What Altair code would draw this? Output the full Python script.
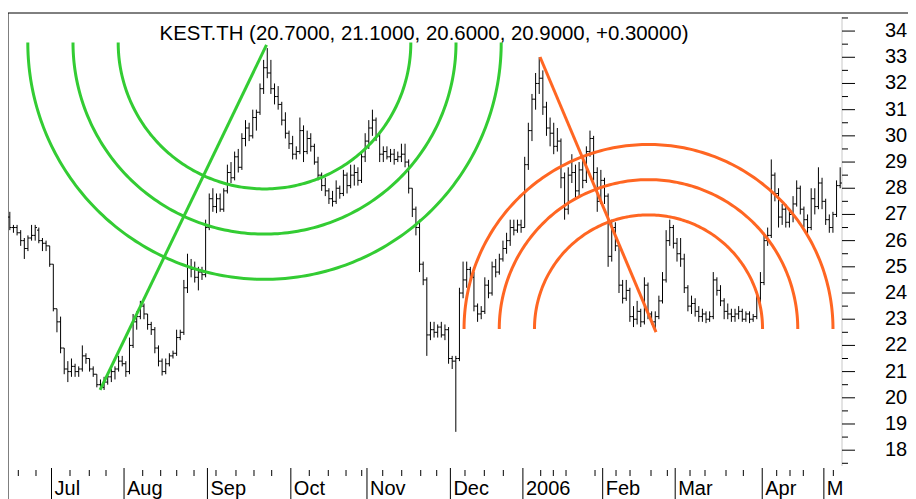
import numpy as np
import pandas as pd
import altair as alt

TITLE = "KEST.TH (20.7000, 21.1000, 20.6000, 20.9000, +0.30000)"

OPEN = [26.9, 26.5, 26.5, 26.3, 26.0, 25.7, 26.1, 26.2, 26.4, 26.0,
        25.9, 25.8, 25.1, 23.4, 22.9, 21.9, 21.1, 21.0, 21.2, 21.0,
        21.1, 21.6, 21.5, 21.1, 20.9, 20.5, 20.4, 20.6, 20.8, 21.0,
        21.1, 21.4, 21.3, 21.0, 22.0, 22.9, 23.1, 23.5, 23.2, 22.8,
        22.6, 21.9, 21.4, 21.0, 21.3, 21.6, 21.7, 22.3, 22.5, 24.2,
        25.0, 24.9, 24.6, 24.8, 24.7, 26.5, 27.6, 27.3, 27.6, 27.2,
        27.9, 28.6, 28.4, 29.2, 28.8, 29.9, 30.3, 30.0, 30.7, 30.9,
        31.8, 32.6, 32.4, 31.8, 31.5, 31.2, 30.6, 30.1, 29.7, 29.3,
        29.4, 30.2, 29.4, 29.9, 29.6, 29.0, 28.5, 28.1, 27.9, 27.6,
        27.5, 28.0, 27.8, 28.5, 28.1, 28.5, 28.6, 28.3, 29.2, 29.8,
        30.3, 30.6, 30.0, 29.3, 29.4, 29.2, 29.3, 29.1, 29.2, 29.3,
        29.0, 28.0, 27.2, 26.5, 25.1, 24.5, 22.4, 22.6, 22.5, 22.7,
        22.4, 22.6, 21.5, 21.4, 21.5, 24.0, 24.5, 24.9, 24.6, 23.5,
        23.2, 23.3, 24.3, 24.0, 25.0, 24.8, 25.3, 25.7, 26.0, 26.5,
        26.4, 26.6, 26.5, 28.9, 30.2, 31.4, 32.0, 32.2, 31.1, 30.3,
        30.1, 29.6, 29.8, 28.4, 27.2, 28.5, 28.6, 27.9, 28.7, 28.3,
        29.4, 29.9, 28.6, 27.5, 28.3, 27.7, 25.4, 26.5, 25.8, 24.3,
        23.8, 24.1, 23.1, 23.0, 23.3, 22.9, 24.3, 23.2, 22.9, 23.1,
        23.7, 24.5, 26.0, 26.5, 25.9, 25.5, 25.3, 24.2, 23.5, 23.6,
        23.3, 23.1, 23.2, 23.0, 23.1, 24.5, 24.1, 23.7, 23.3, 23.2,
        23.1, 23.2, 23.3, 23.0, 23.2, 23.0, 23.1, 23.8, 24.4, 26.0,
        26.2, 28.5, 27.8, 26.9, 27.2, 26.7, 27.0, 27.4, 28.0, 27.2,
        26.8, 26.5, 27.6, 27.3, 28.2, 27.5, 26.8, 26.5, 27.0, 28.1]

HIGH = [27.1, 26.6, 26.6, 26.4, 26.1, 26.2, 26.6, 26.6, 26.5, 26.1,
        26.0, 25.8, 25.1, 23.4, 23.1, 21.9, 21.4, 21.5, 21.3, 21.2,
        22.0, 21.7, 21.5, 21.2, 20.9, 20.7, 20.8, 20.9, 21.1, 21.2,
        21.6, 21.6, 21.4, 22.3, 23.2, 23.3, 23.7, 23.6, 23.2, 22.9,
        22.7, 22.0, 21.5, 21.5, 21.7, 21.8, 22.6, 22.6, 24.5, 25.5,
        25.3, 25.2, 25.0, 25.0, 26.8, 27.8, 28.0, 27.8, 27.8, 28.0,
        28.9, 29.0, 29.4, 29.5, 30.1, 30.6, 30.5, 31.0, 31.0, 32.0,
        32.9, 33.35, 32.9, 32.0, 31.9, 31.3, 30.9, 30.2, 30.0, 29.6,
        30.7, 30.4, 30.2, 30.1, 29.7, 29.2, 28.6, 28.4, 28.0, 27.9,
        28.3, 28.1, 28.7, 28.6, 28.9, 28.9, 28.8, 29.4, 30.1, 30.6,
        31.0, 30.7, 30.1, 29.6, 29.6, 29.5, 29.5, 29.4, 29.7, 29.7,
        29.1, 28.0, 27.3, 26.8, 25.2, 24.6, 22.9, 22.9, 22.8, 22.9,
        22.8, 22.7, 21.6, 21.6, 24.2, 25.2, 25.2, 25.0, 24.8, 23.6,
        23.5, 24.6, 24.5, 25.2, 25.3, 25.5, 26.0, 26.3, 26.8, 26.8,
        26.8, 26.8, 29.2, 30.5, 31.6, 32.4, 33.0, 32.5, 31.3, 30.7,
        30.5, 30.3, 29.9, 28.6, 28.8, 29.3, 28.9, 29.0, 29.1, 29.6,
        30.2, 30.0, 28.8, 28.7, 28.4, 27.8, 26.8, 26.7, 25.9, 24.5,
        24.5, 24.2, 23.5, 23.7, 23.4, 24.6, 24.4, 23.3, 23.3, 23.9,
        24.8, 26.4, 26.8, 26.6, 26.1, 26.1, 25.5, 24.3, 23.9, 23.8,
        23.5, 23.4, 23.3, 23.3, 24.8, 24.6, 24.3, 23.8, 23.6, 23.4,
        23.4, 23.5, 23.4, 23.3, 23.3, 23.2, 24.0, 24.8, 26.3, 26.5,
        29.1, 28.6, 28.0, 27.4, 27.4, 27.2, 27.7, 28.3, 28.1, 27.3,
        27.0, 28.0, 28.0, 28.8, 28.4, 27.6, 27.0, 27.1, 28.3, 28.8]

LOW = [26.4, 26.3, 26.2, 25.8, 25.3, 25.6, 26.0, 26.0, 25.9, 25.6,
       25.6, 25.0, 23.3, 22.5, 21.7, 20.9, 20.6, 20.8, 20.8, 20.8,
       21.0, 21.3, 21.0, 20.8, 20.4, 20.3, 20.3, 20.5, 20.6, 20.7,
       21.0, 21.2, 20.8, 20.9, 21.9, 22.6, 23.0, 23.0, 22.6, 22.4,
       21.7, 21.2, 20.85, 20.9, 21.2, 21.5, 21.6, 22.2, 22.4, 24.0,
       24.6, 24.4, 24.1, 24.5, 24.6, 26.4, 27.1, 27.05, 27.1, 27.1,
       27.8, 28.2, 28.3, 28.6, 28.7, 29.6, 29.8, 29.9, 30.2, 30.8,
       31.6, 32.2, 31.6, 31.2, 31.0, 30.4, 29.9, 29.5, 29.1, 29.1,
       29.3, 29.0, 29.3, 29.4, 28.9, 28.3, 27.9, 27.7, 27.4, 27.3,
       27.4, 27.6, 27.7, 27.8, 28.0, 28.1, 28.1, 28.2, 29.0, 29.5,
       30.0, 29.8, 29.0, 29.0, 29.1, 29.0, 28.9, 29.0, 29.0, 28.8,
       27.8, 26.9, 26.2, 24.8, 24.3, 21.6, 22.2, 22.3, 22.3, 22.3,
       22.2, 21.3, 21.1, 18.7, 21.4, 23.8, 24.2, 24.5, 23.3, 22.9,
       23.0, 23.2, 23.8, 23.9, 24.6, 24.7, 25.2, 25.5, 25.8, 26.2,
       26.3, 26.3, 26.5, 28.7, 29.8, 31.0, 31.6, 30.8, 30.0, 29.6,
       29.3, 29.4, 28.0, 26.8, 27.0, 28.2, 27.6, 27.7, 28.0, 28.2,
       29.2, 28.3, 27.1, 27.4, 27.4, 25.0, 25.2, 25.6, 24.0, 23.6,
       23.7, 22.9, 22.7, 22.8, 22.7, 22.8, 23.0, 22.8, 22.6, 23.0,
       23.6, 24.4, 25.8, 25.7, 25.2, 25.0, 24.0, 23.3, 23.2, 23.1,
       22.9, 22.9, 22.85, 22.9, 23.0, 23.9, 23.5, 23.0, 23.0, 22.9,
       22.9, 23.0, 22.9, 22.9, 22.85, 22.9, 23.0, 23.6, 24.3, 25.8,
       26.1, 27.5, 26.5, 26.6, 26.5, 26.5, 26.7, 27.3, 27.0, 26.5,
       26.2, 26.4, 27.0, 27.2, 27.2, 26.6, 26.3, 26.3, 26.9, 28.0]

CLOSE = [26.5, 26.5, 26.3, 26.0, 25.7, 26.1, 26.2, 26.5, 26.0, 25.9,
         25.8, 25.1, 23.4, 22.9, 21.9, 21.1, 21.0, 21.2, 21.0, 21.1,
         21.6, 21.5, 21.1, 20.9, 20.5, 20.4, 20.6, 20.8, 21.0, 21.1,
         21.4, 21.3, 21.0, 22.0, 22.9, 23.1, 23.5, 23.2, 22.8, 22.6,
         21.9, 21.4, 21.0, 21.3, 21.6, 21.7, 22.3, 22.5, 24.2, 25.0,
         24.9, 24.6, 24.8, 24.7, 26.5, 27.6, 27.3, 27.6, 27.2, 27.9,
         28.6, 28.4, 29.2, 28.8, 29.9, 30.3, 30.0, 30.7, 30.9, 31.8,
         32.6, 32.4, 31.8, 31.5, 31.2, 30.6, 30.1, 29.7, 29.3, 29.4,
         30.2, 29.4, 29.9, 29.6, 29.0, 28.5, 28.1, 27.9, 27.6, 27.5,
         28.0, 27.8, 28.5, 28.1, 28.5, 28.6, 28.3, 29.2, 29.8, 30.3,
         30.6, 30.0, 29.3, 29.4, 29.2, 29.3, 29.1, 29.2, 29.3, 29.0,
         28.0, 27.2, 26.5, 25.1, 24.5, 22.4, 22.6, 22.5, 22.7, 22.4,
         22.6, 21.5, 21.4, 21.5, 24.0, 24.5, 24.9, 24.6, 23.5, 23.2,
         23.3, 24.3, 24.0, 25.0, 24.8, 25.3, 25.7, 26.0, 26.5, 26.4,
         26.6, 26.5, 28.9, 30.2, 31.4, 32.0, 32.2, 31.1, 30.3, 30.1,
         29.6, 29.8, 28.4, 27.2, 28.5, 28.6, 27.9, 28.7, 28.3, 29.4,
         29.9, 28.6, 27.5, 28.3, 27.7, 25.4, 26.5, 25.8, 24.3, 23.8,
         24.1, 23.1, 23.0, 23.3, 22.9, 24.3, 23.2, 22.9, 23.1, 23.7,
         24.5, 26.0, 26.5, 25.9, 25.5, 25.3, 24.2, 23.5, 23.6, 23.3,
         23.1, 23.2, 23.0, 23.1, 24.5, 24.1, 23.7, 23.3, 23.2, 23.1,
         23.2, 23.3, 23.0, 23.2, 23.0, 23.1, 23.8, 24.4, 26.0, 26.2,
         28.5, 27.8, 26.9, 27.2, 26.7, 27.0, 27.4, 28.0, 27.2, 26.8,
         26.5, 27.6, 27.3, 28.2, 27.5, 26.8, 26.5, 27.0, 28.1, 28.2]

MONTH_POS = [12, 32, 55, 78, 99, 122, 142, 164, 184, 208, 225]
MONTH_LABELS = ["Jul", "Aug", "Sep", "Oct", "Nov", "Dec", "2006", "Feb", "Mar", "Apr", "M"]
WEEK_POS = [2.84, 7.72, 17.10, 22.42, 27.03, 37.15, 42.11, 46.53, 51.30, 57.36,
            62.87, 67.84, 72.72, 83.09, 88.33, 93.22, 97.55, 103.34, 108.58, 113.82,
            118.23, 126.03, 131.36, 136.60, 146.91, 150.39, 153.89, 161.89, 167.68, 171.54,
            177.33, 181.83, 188.09, 192.22, 198.01, 202.79, 211.99, 215.66, 219.33, 227.61]
Y_MAJOR = [18, 19, 20, 21, 22, 23, 24, 25, 26, 27, 28, 29, 30, 31, 32, 33, 34]
Y_LABELS = ["18", "19", "20", "21", "22", "23", "24", "25", "26", "27", "28",
            "29", "30", "31", "32", "33", "34"]
Y_MINOR = [17.5, 18.5, 19.5, 20.5, 21.5, 22.5, 23.5, 24.5, 25.5, 26.5, 27.5,
           28.5, 29.5, 30.5, 31.5, 32.5, 33.5, 34.5]

FIB = [0.382, 0.5, 0.618]
GREEN_LINE = [(25.4, 20.30), (71.29, 33.47)]
GREEN_CENTER = (70.74, 33.56)
ORANGE_LINE = [(146.72, 33.01), (178.71, 22.51)]
ORANGE_CENTER = (176.64, 22.63)

GREEN = "#33cc33"
ORANGE = "#ff6622"
FONT = "Liberation Sans"

W, H = 834, 455
XDOM = [0, 230]
YDOM = [17.32, 34.69]
pxu = W / (XDOM[1] - XDOM[0])
pxp = H / (YDOM[1] - YDOM[0])

xs = alt.Scale(domain=XDOM, nice=False, zero=False)
ys = alt.Scale(domain=YDOM, nice=False, zero=False)

n = len(CLOSE)
bars = pd.DataFrame({
    "ul": [i for i in range(n)],
    "um": [i + 0.5 for i in range(n)],
    "ur": [i + 1.0 for i in range(n)],
    "o": OPEN, "h": HIGH, "l": LOW, "c": CLOSE,
})


def arc_frame(line, center, upward, name):
    (u1, p1), (u2, p2) = line
    L = np.hypot((u2 - u1) * pxu, (p2 - p1) * pxp)
    t = np.linspace(0, np.pi, 181)
    rows = []
    for k, f in enumerate(FIB):
        r = f * L
        us = center[0] + r * np.cos(t) / pxu
        ps = center[1] + (1 if upward else -1) * r * np.sin(t) / pxp
        for j in range(len(t)):
            rows.append({"u": us[j], "p": ps[j], "arc": f"{name}{k}", "ord": j})
    return pd.DataFrame(rows)


def line_frame(line):
    return pd.DataFrame({"u": [line[0][0], line[1][0]], "p": [line[0][1], line[1][1]]})


base = alt.Chart(bars)
hl = base.mark_rule(color="black", strokeWidth=1).encode(
    x=alt.X("um:Q", scale=xs, axis=None),
    y=alt.Y("l:Q", scale=ys, axis=None),
    y2="h:Q",
)
op = base.mark_rule(color="black", strokeWidth=1).encode(
    x=alt.X("ul:Q", scale=xs, axis=None), x2="um:Q",
    y=alt.Y("o:Q", scale=ys, axis=None),
)
cl = base.mark_rule(color="black", strokeWidth=1).encode(
    x=alt.X("um:Q", scale=xs, axis=None), x2="ur:Q",
    y=alt.Y("c:Q", scale=ys, axis=None),
)


def fib_layers(line, center, upward, name, color):
    arcs = alt.Chart(arc_frame(line, center, upward, name)).mark_line(
        color=color, strokeWidth=3).encode(
        x=alt.X("u:Q", scale=xs, axis=None),
        y=alt.Y("p:Q", scale=ys, axis=None),
        detail="arc:N", order="ord:Q")
    trend = alt.Chart(line_frame(line)).mark_line(color=color, strokeWidth=3).encode(
        x=alt.X("u:Q", scale=xs, axis=None),
        y=alt.Y("p:Q", scale=ys, axis=None))
    return [arcs, trend]


months = pd.DataFrame({"u": MONTH_POS, "lab": MONTH_LABELS})
mticks = alt.Chart(months).mark_rule(color="black", strokeWidth=1).encode(
    x=alt.X("u:Q", scale=xs, axis=None), y=alt.value(H), y2=alt.value(H + 31))
mlabels = alt.Chart(months).mark_text(align="left", baseline="top", dx=3, fontSize=20,
                                      font=FONT, color="black").encode(
    x=alt.X("u:Q", scale=xs, axis=None), y=alt.value(H + 10.5), text="lab:N")
wticks = alt.Chart(pd.DataFrame({"u": WEEK_POS})).mark_rule(color="black", strokeWidth=1).encode(
    x=alt.X("u:Q", scale=xs, axis=None), y=alt.value(H + 2), y2=alt.value(H + 8))

ydf = pd.DataFrame({"p": Y_MAJOR, "lab": Y_LABELS})
ymajor = alt.Chart(ydf).mark_rule(color="black", strokeWidth=1).encode(
    y=alt.Y("p:Q", scale=ys, axis=None), x=alt.value(W), x2=alt.value(W + 13))
ylabels = alt.Chart(ydf).mark_text(align="left", baseline="middle", fontSize=20,
                                   font=FONT, color="black").encode(
    y=alt.Y("p:Q", scale=ys, axis=None), x=alt.value(W + 43), text="lab:N")
yminor = alt.Chart(pd.DataFrame({"p": Y_MINOR})).mark_rule(color="black", strokeWidth=1).encode(
    y=alt.Y("p:Q", scale=ys, axis=None), x=alt.value(W), x2=alt.value(W + 6))
ydomain = alt.Chart(pd.DataFrame({"a": [0]})).mark_rule(color="#c8c8c8", strokeWidth=1).encode(
    x=alt.value(W), y=alt.value(4), y2=alt.value(H - 2))

title = alt.Chart(pd.DataFrame({"t": [TITLE]})).mark_text(
    align="center", baseline="alphabetic", fontSize=20.4, font=FONT, color="black").encode(
    x=alt.value(416), y=alt.value(26.5), text="t:N")

frame_df = pd.DataFrame({"a": [0]})
top_line = alt.Chart(frame_df).mark_rule(color="black", strokeWidth=1).encode(
    x=alt.value(-1), x2=alt.value(900), y=alt.value(0))
left_line = alt.Chart(frame_df).mark_rule(color="black", strokeWidth=1).encode(
    x=alt.value(0), y=alt.value(0), y2=alt.value(486))

layers = [ydomain, hl, op, cl] + fib_layers(GREEN_LINE, GREEN_CENTER, False, "g", GREEN) \
    + fib_layers(ORANGE_LINE, ORANGE_CENTER, True, "o", ORANGE) \
    + [mticks, mlabels, wticks, ymajor, yminor, ylabels, title, top_line, left_line]

chart = alt.layer(*layers).properties(
    width=W, height=H,
    padding={"top": 5, "left": 0, "right": 66, "bottom": 31},
    autosize=alt.AutoSizeParams(type="none"),
).configure_view(strokeWidth=0)

chart.save("out.html", embed_options={"renderer": "svg", "actions": False})
